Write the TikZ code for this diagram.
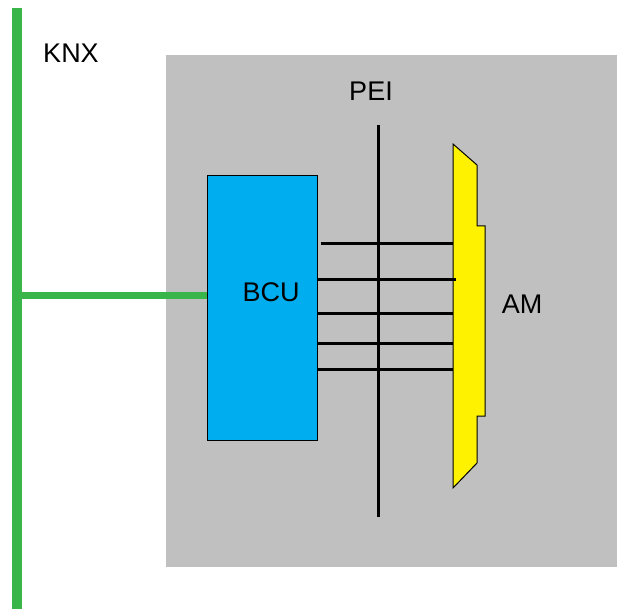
\documentclass[tikz,border=0pt]{standalone}
\usepackage{fontspec}
\setmainfont{Liberation Sans}
\definecolor{knxgreen}{RGB}{57,181,74}
\definecolor{panelgray}{RGB}{192,192,192}
\definecolor{bcublue}{RGB}{0,174,239}
\definecolor{amyellow}{RGB}{255,242,0}
\tikzset{
  lbl/.style={font=\fontsize{27}{31}\selectfont, inner sep=0pt},
  wire/.style={line width=3pt, black},
}
\begin{document}
\begin{tikzpicture}[x=1pt,y=-1pt]
\useasboundingbox (0,0) rectangle (617,609);
\fill[panelgray] (166,55) rectangle (617,567);
% KNX bus
\coordinate (bustop) at (17,8);
\coordinate (busbot) at (17,609);
\draw[knxgreen, line width=10pt] (bustop) -- (busbot);
\node[lbl] (knx) at (71,53) {KNX};
% BCU
\node[draw=black, line width=1pt, fill=bcublue, minimum width=110pt, minimum height=264pt, inner sep=0pt] (bcu) at (262,308) {};
\node[lbl] (bcul) at (271,292) {BCU};
\coordinate (tap) at (17,295);
\draw[knxgreen, line width=7pt] (tap) -- (bcu.west |- tap);
% PEI
\coordinate (peitop) at (378,125);
\coordinate (peibot) at (378,517);
\draw[line width=3pt] (peitop) -- (peibot);
\node[lbl] (pei) at (371,91) {PEI};
% AM
\draw[fill=amyellow, line width=1pt] (453,144) -- (477,165) -- (477,226) -- (485,226) -- (485,416) -- (477,416) -- (477,463) -- (453,488) -- cycle;
\coordinate (am) at (453,300);
\node[lbl] (aml) at (522,304) {AM};
% wires
\coordinate (w1a) at (321,243); \coordinate (w1b) at (453,243);
\coordinate (w2a) at (317,279); \coordinate (w2b) at (456,279);
\coordinate (w3a) at (317,313); \coordinate (w3b) at (453,313);
\coordinate (w4a) at (317,343); \coordinate (w4b) at (453,343);
\coordinate (w5a) at (317,369); \coordinate (w5b) at (453,369);
\draw[wire] (w1a) -- (w1b);
\draw[wire] (w2a) -- (w2b);
\draw[wire] (w3a) -- (w3b);
\draw[wire] (w4a) -- (w4b);
\draw[wire] (w5a) -- (w5b);
\end{tikzpicture}
\end{document}
